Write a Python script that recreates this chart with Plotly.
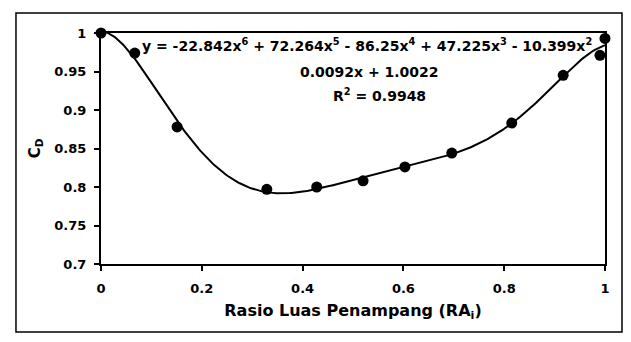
import numpy as np
import plotly.graph_objects as go

# Data
ra = [0.0, 0.067, 0.151, 0.329, 0.428, 0.52, 0.603, 0.696, 0.815, 0.917, 0.99, 1.0]
cd = [1.0, 0.974, 0.878, 0.797, 0.800, 0.808, 0.826, 0.844, 0.883, 0.945, 0.971, 0.993]

x_ticks = [0, 0.2, 0.4, 0.6, 0.8, 1]
x_labels = ["0", "0.2", "0.4", "0.6", "0.8", "1"]
y_ticks = [0.7, 0.75, 0.8, 0.85, 0.9, 0.95, 1]
y_labels = ["0.7", "0.75", "0.8", "0.85", "0.9", "0.95", "1"]

eq_line1 = "y = -22.842x<sup>6</sup> + 72.264x<sup>5</sup> - 86.25x<sup>4</sup> + 47.225x<sup>3</sup> - 10.399x<sup>2</sup>"
eq_line2 = "0.0092x + 1.0022"
eq_line3 = "R<sup>2</sup> = 0.9948"

# 6th-order polynomial trendline fitted to the points (as the spreadsheet did)
coef = np.polyfit(ra, cd, 6)
xs = np.linspace(0, 1, 300)
ys = np.polyval(coef, xs)

FAM = "DejaVu Sans, Arial, sans-serif"
tf = dict(family=FAM, size=13, color="black", weight="bold")

fig = go.Figure()
fig.add_trace(go.Scatter(x=xs, y=ys, mode="lines", line=dict(color="black", width=2),
                         hoverinfo="skip", showlegend=False))
fig.add_trace(go.Scatter(x=ra, y=cd, mode="markers", marker=dict(color="black", size=11),
                         showlegend=False, cliponaxis=False))

fig.update_layout(
    width=631, height=342,
    margin=dict(l=101, r=26, t=33, b=78),
    paper_bgcolor="white", plot_bgcolor="white",
    font=dict(family=FAM, size=13, color="black"),
    xaxis=dict(range=[0, 1], tickvals=x_ticks, ticktext=x_labels,
               showgrid=False, zeroline=False, showline=True, linecolor="black", linewidth=2,
               mirror=True, ticks="outside", ticklen=5, tickwidth=1.5, tickcolor="black",
               ticklabelstandoff=6, tickfont=tf,
               title=dict(text="Rasio Luas Penampang (RA<sub>i</sub>)", standoff=10,
                          font=dict(family=FAM, size=16, color="black", weight="bold"))),
    yaxis=dict(range=[0.7, 1], tickvals=y_ticks, ticktext=y_labels,
               showgrid=False, zeroline=False, showline=True, linecolor="black", linewidth=2,
               mirror=True, ticks="outside", ticklen=5, tickwidth=1.5, tickcolor="black",
               ticklabelstandoff=5, tickfont=tf,
               title=dict(text="C<sub>D</sub>", standoff=10,
                          font=dict(family=FAM, size=15, color="black", weight="bold"))),
)

af = dict(family=FAM, size=14, color="black", weight="bold")
fig.add_annotation(x=0.528, y=0.948, xref="paper", yref="paper", text=eq_line1,
                   showarrow=False, xanchor="center", yanchor="middle", font=af)
fig.add_annotation(x=0.532, y=0.831, xref="paper", yref="paper", text=eq_line2,
                   showarrow=False, xanchor="center", yanchor="middle", font=af)
fig.add_annotation(x=0.553, y=0.732, xref="paper", yref="paper", text=eq_line3,
                   showarrow=False, xanchor="center", yanchor="middle", font=af)

# outer chart border
fig.add_shape(type="rect", xref="paper", yref="paper", x0=-0.1687, x1=1.0337, y0=-0.2944, y1=1.0866,
              line=dict(color="black", width=1.5))

fig.write_html("out.html")
